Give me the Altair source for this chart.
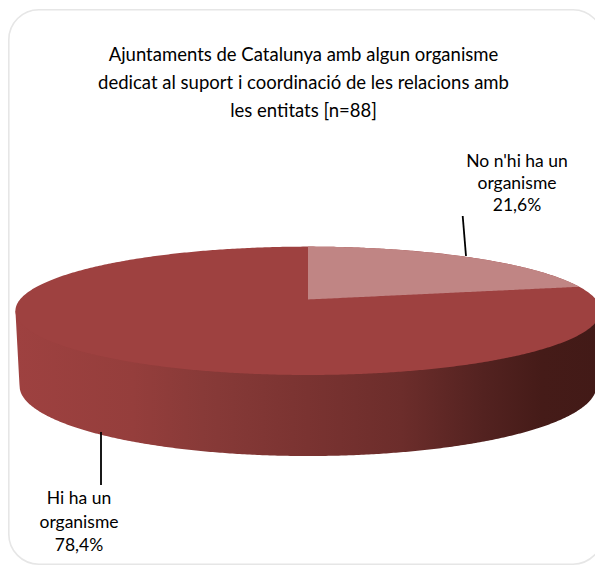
import numpy as np
import pandas as pd
import altair as alt

categories = ["No n'hi ha un organisme", "Hi ha un organisme"]
shares = [21.6, 78.4]
label_lines = [["No n'hi ha un", "organisme", "21,6%"], ["Hi ha un", "organisme", "78,4%"]]
title_lines = [
    "Ajuntaments de Catalunya amb algun organisme",
    "dedicat al suport i coordinació de les relacions amb",
    "les entitats [n=88]",
]

K = 0.176
RIM_SCALE_X = 0.986
RIM_SCALE_Y = 1.093
DROP = 1.19
PX_X, PX_Y = 288.0, 62.2
CX, CY = 308.0, 299.5
W, H = 587, 557
LEFT, TOP = 8, 8

a = 1 / np.sqrt(1 - K * K)
c = (1 / (1 + K) - 1 / (1 - K)) / 2
b = (1 / (1 + K) + 1 / (1 - K)) / 2

x_scale = alt.Scale(domain=[(LEFT - CX) / PX_X, (LEFT + W - CX) / PX_X], range=[0, W], nice=False, zero=False)
y_scale = alt.Scale(domain=[(CY - TOP - H) / PX_Y, (CY - TOP) / PX_Y], range=[H, 0], nice=False, zero=False)

t = np.linspace(-np.pi / 2, np.pi / 2, 361)
xs = a * np.sin(t)
top_upper = c + b * np.cos(t)
top_lower = c - b * np.cos(t)
face = pd.DataFrame({"x": xs, "y": top_upper, "y2": top_lower})

theta = 2 * np.pi * shares[0] / 100
w = 1 + K * np.cos(theta)
xe, ye = np.sin(theta) / w, np.cos(theta) / w
t_end = np.arcsin(xe / a)
ts = np.linspace(0, t_end, 120)
slice_df = pd.DataFrame({"x": a * np.sin(ts), "y": c + b * np.cos(ts), "y2": ye * a * np.sin(ts) / xe})

a2 = a * RIM_SCALE_X
c2 = c * RIM_SCALE_Y - DROP
b2 = b * RIM_SCALE_Y
inner = np.abs(xs) <= a2
lower = np.where(
    inner,
    c2 - b2 * np.sqrt(np.clip(1 - (xs / a2) ** 2, 0, 1)),
    c2 + (c - c2) * (np.abs(xs) - a2) / (a - a2),
)
# the wall starts behind the top face so that no seam shows between them
wall = pd.DataFrame({"x": xs, "y": np.full_like(xs, c), "y2": lower})

X = alt.X("x:Q", scale=x_scale, axis=None)
Y = alt.Y("y:Q", scale=y_scale, axis=None)
Y2 = alt.Y2("y2:Q")

wall_fill = alt.Gradient(
    gradient="linear", x1=0, x2=1, y1=0, y2=0,
    stops=[
        alt.GradientStop(offset=0, color="#9e4140"),
        alt.GradientStop(offset=0.2, color="#953e3c"),
        alt.GradientStop(offset=0.32, color="#883a38"),
        alt.GradientStop(offset=0.5, color="#7a3331"),
        alt.GradientStop(offset=0.66, color="#6c2d2b"),
        alt.GradientStop(offset=0.8, color="#532220"),
        alt.GradientStop(offset=0.9, color="#451b18"),
        alt.GradientStop(offset=1, color="#421a17"),
    ],
)

wall_layer = alt.Chart(wall).mark_area(fill=wall_fill, clip=False).encode(x=X, y=Y, y2=Y2)
face_layer = alt.Chart(face).mark_area(color="#9e4140", clip=False).encode(x=X, y=Y, y2=Y2)
slice_layer = alt.Chart(slice_df).mark_area(color="#c08584", clip=False).encode(x=X, y=Y, y2=Y2)

frame = alt.Chart(pd.DataFrame({"k": [0]})).mark_rect(
    fillOpacity=0, stroke="#e6e6e6", strokeWidth=1.6, cornerRadius=30, clip=False
).encode(
    x=alt.value(0.8), x2=alt.value(603 - LEFT),
    y=alt.value(9.7 - TOP), y2=alt.value(H - 0.8),
)

def leader(x1, y1, x2, y2):
    return alt.Chart(pd.DataFrame({"k": [0]})).mark_rule(color="#000000", strokeWidth=1.8).encode(
        x=alt.value(x1 - LEFT), x2=alt.value(x2 - LEFT),
        y=alt.value(y1 - TOP), y2=alt.value(y2 - TOP),
    )

def text_block(lines, cx, first_y, step, size, font):
    layers = []
    for i, line in enumerate(lines):
        layers.append(
            alt.Chart(pd.DataFrame({"t": [line]})).mark_text(
                font=font, fontSize=size, color="#000000", align="center", baseline="alphabetic"
            ).encode(x=alt.value(cx - LEFT), y=alt.value(first_y + i * step - TOP), text="t:N")
        )
    return layers

texts = (
    text_block(label_lines[0], 517, 166.5, 22, 17.5, "Lato")
    + text_block(label_lines[1], 79, 504, 23.5, 17.5, "Lato")
)

chart = alt.layer(
    frame, wall_layer, face_layer, slice_layer,
    leader(462.7, 216, 466, 256), leader(101, 432, 101, 485),
    *texts,
).properties(
    width=W, height=H,
    padding=0,
    autosize=alt.AutoSizeParams(type="none"),
    title=alt.TitleParams(
        text=title_lines, anchor="start", align="center", font="Lato", fontSize=18.5,
        fontWeight="normal", color="#000000", lineHeight=28, dx=295.5, offset=-112,
    ),
).configure_view(stroke=None)

chart.save("out.html", embed_options={"renderer": "svg", "actions": False})
